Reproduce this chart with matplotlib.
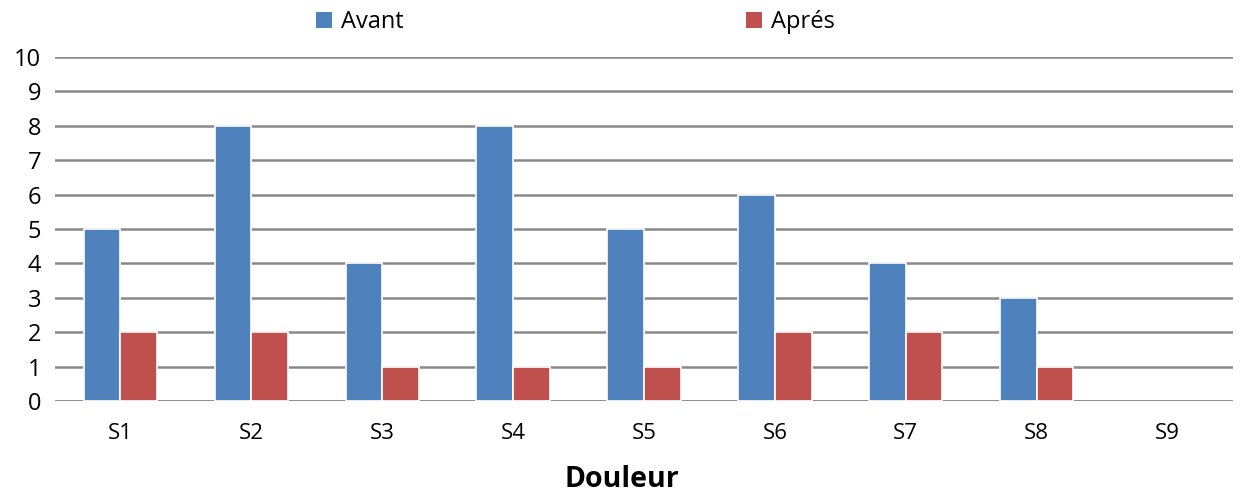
import matplotlib
matplotlib.use("Agg")
import matplotlib.pyplot as plt
import numpy as np
from matplotlib.patches import Patch

categories = ["S1", "S2", "S3", "S4", "S5", "S6", "S7", "S8", "S9"]
avant = [5, 8, 4, 8, 5, 6, 4, 3, 0]
apres = [2, 2, 1, 1, 1, 2, 2, 1, 0]
yticks = list(range(0, 11))

plt.rcParams['font.family'] = ['Open Sans', 'DejaVu Sans']

fig = plt.figure(figsize=(12.46, 4.98), dpi=100)
ax = fig.add_axes([55/1246, 1-401/498, (1233-55)/1246, (401-57)/498])

x = np.arange(len(categories))
w = 0.28
blue = "#4F81BD"
red = "#C0504D"
ec_a = ["white" if v > 0 else "none" for v in avant]
ec_r = ["white" if v > 0 else "none" for v in apres]
ax.bar(x - w/2, avant, w, color=blue, edgecolor=ec_a, linewidth=1.2, zorder=3)
ax.bar(x + w/2, apres, w, color=red, edgecolor=ec_r, linewidth=1.2, zorder=3)

ax.set_xlim(-0.5, len(categories) - 0.5)
ax.set_ylim(0, 10)
ax.set_yticks(yticks)
ax.set_xticks(x)
ax.set_xticklabels(categories)
ax.tick_params(axis='y', length=0, labelsize=17, pad=10)
ax.tick_params(axis='x', length=0, labelsize=16, pad=16)
ax.yaxis.grid(True, color="#898989", linewidth=1.8, zorder=0)
for s in ax.spines.values():
    s.set_visible(False)
ax.axhline(0, color="#898989", linewidth=1.8, zorder=0)

ax.set_xlabel("Douleur", fontsize=20.5, fontweight="bold")
ax.xaxis.set_label_coords(0.481, -0.185)

handles = [Patch(facecolor=blue, label="Avant"), Patch(facecolor=red, label="Aprés")]
fig.legend(handles=handles, loc="center", bbox_to_anchor=(0.462, 0.955), ncol=2,
           frameon=False, fontsize=17, handlelength=0.65, handleheight=0.65,
           handletextpad=0.4, columnspacing=14.5)

fig.savefig("out.png", dpi=100, facecolor="white")
